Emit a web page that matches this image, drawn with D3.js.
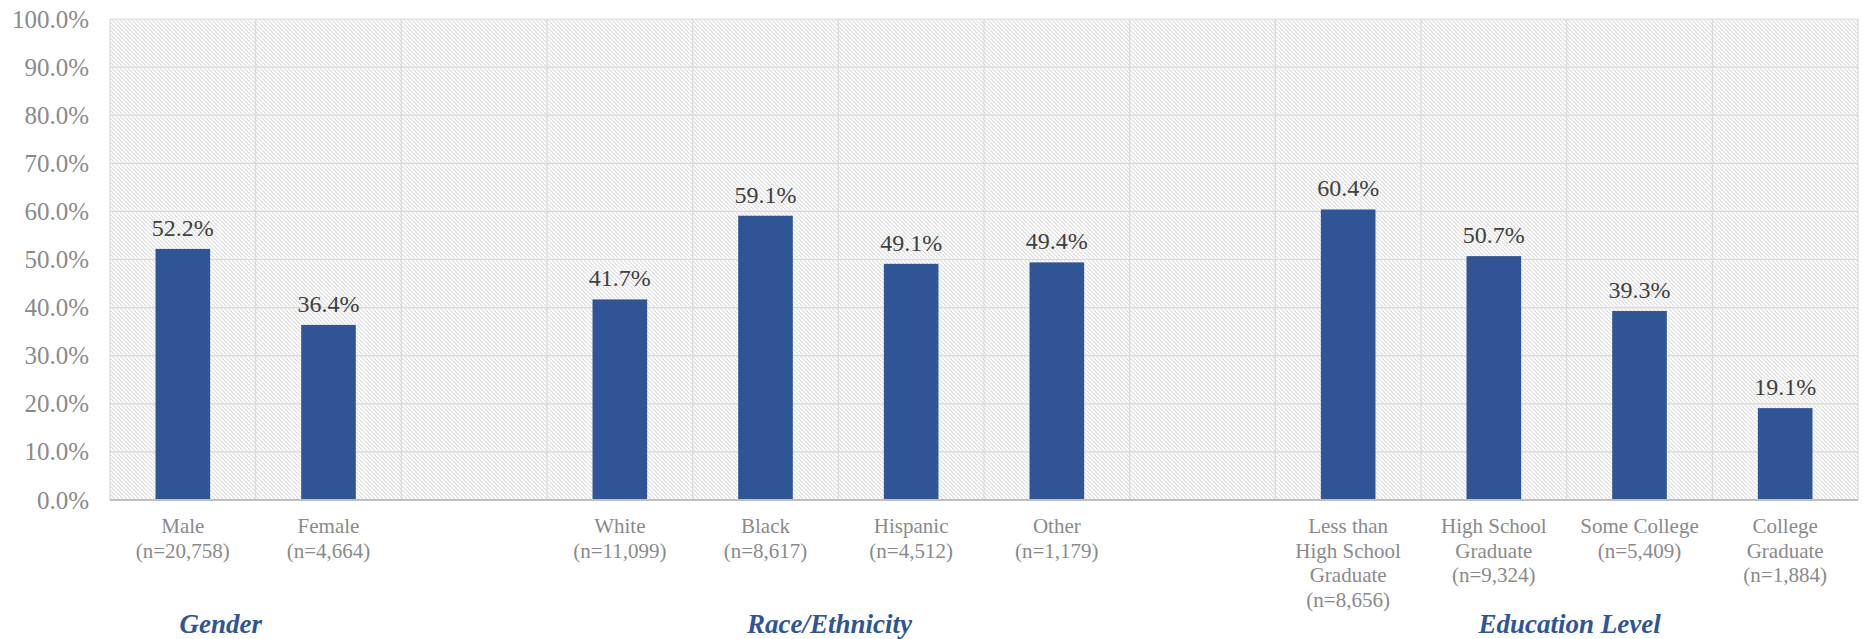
<!DOCTYPE html>
<html>
<head>
<meta charset="utf-8">
<script src="https://cdn.jsdelivr.net/npm/d3@7"></script>
<style>
  body { margin: 0; background: #fff; }
  svg { display: block; }
</style>
</head>
<body>
<svg width="1863" height="639"></svg>
<script>
// categories, blank slots separate the groups
var categories = ["Male", "Female", "", "White", "Black", "Hispanic", "Other", "",
  "Less than\nHigh School\nGraduate", "High School\nGraduate", "Some College", "College\nGraduate"];
var sampleSizes = ["20,758", "4,664", null, "11,099", "8,617", "4,512", "1,179", null,
  "8,656", "9,324", "5,409", "1,884"];
var values = [52.2, 36.4, null, 41.7, 59.1, 49.1, 49.4, null, 60.4, 50.7, 39.3, 19.1];

var groups = ["Gender", "Race/Ethnicity", "Education Level"];
var groupCenters = [0.76, 4.94, 10.02]; // in category slots
var yTicks = [0, 10, 20, 30, 40, 50, 60, 70, 80, 90, 100];

var plotLeft = 110, plotRight = 1858, plotTop = 19, plotBottom = 500;
var font = "'Liberation Serif', 'Times New Roman', serif";

var svg = d3.select("svg");

var data = categories.map((c, i) => {
  return {key: i, name: c, n: sampleSizes[i], value: values[i]};
});

var x = d3.scaleBand()
  .domain(data.map(d => d.key))
  .range([plotLeft, plotRight])
  .paddingInner(0.625)
  .paddingOuter(0.3125);

var slot = d3.scaleLinear()
  .domain([0, categories.length])
  .range([plotLeft, plotRight]);

var y = d3.scaleLinear()
  .domain([0, 100])
  .range([plotBottom, plotTop]);

// hatch fill for the plot area
var pat = svg.append("defs").append("pattern")
  .attr("id", "hatch")
  .attr("patternUnits", "userSpaceOnUse")
  .attr("width", 4)
  .attr("height", 4);
pat.append("rect").attr("width", 4).attr("height", 4).attr("fill", "#fff");
pat.append("path")
  .attr("d", "M-1,-1L5,5M-1,3L1,5M3,-1L5,1")
  .attr("stroke", "#dcdcdc")
  .attr("stroke-width", 1.1);

svg.append("rect")
  .attr("x", plotLeft).attr("y", plotTop)
  .attr("width", plotRight - plotLeft).attr("height", plotBottom - plotTop)
  .attr("fill", "url(#hatch)");

// grid
var grid = svg.append("g").attr("stroke", "#d9d9d9").attr("stroke-width", 1.2);
grid.selectAll(".h").data(yTicks).join("line")
  .attr("x1", plotLeft).attr("x2", plotRight)
  .attr("y1", d => y(d)).attr("y2", d => y(d));
grid.selectAll(".v").data(d3.range(categories.length + 1)).join("line")
  .attr("x1", d => slot(d)).attr("x2", d => slot(d))
  .attr("y1", plotTop).attr("y2", plotBottom);

// y axis
var yAxis = svg.append("g")
  .attr("transform", `translate(${plotLeft}, 0)`)
  .call(d3.axisLeft(y).tickValues(yTicks).tickSize(0).tickPadding(21)
    .tickFormat(d => d.toFixed(1) + "%"));
yAxis.select(".domain").remove();
yAxis.selectAll("text")
  .attr("font-family", font)
  .attr("font-size", 25)
  .attr("fill", "#8a8a8a");

// bars
var bars = data.filter(d => d.value != null);
svg.append("g").selectAll("rect").data(bars).join("rect")
  .attr("x", d => x(d.key))
  .attr("width", x.bandwidth())
  .attr("y", d => y(d.value))
  .attr("height", d => y(0) - y(d.value))
  .attr("fill", "#2f5597");

svg.append("g").selectAll("text").data(bars).join("text")
  .attr("x", d => x(d.key) + x.bandwidth() / 2)
  .attr("y", d => y(d.value) - 13)
  .attr("text-anchor", "middle")
  .attr("font-family", font)
  .attr("font-size", 24)
  .attr("fill", "#404040")
  .text(d => d.value.toFixed(1) + "%");

// bottom axis line
svg.append("line")
  .attr("x1", plotLeft).attr("x2", plotRight)
  .attr("y1", y(0)).attr("y2", y(0))
  .attr("stroke", "#bfbfbf")
  .attr("stroke-width", 2);

// category labels
var labels = svg.append("g").selectAll("text").data(bars).join("text")
  .attr("text-anchor", "middle")
  .attr("font-family", font)
  .attr("font-size", 21)
  .attr("fill", "#8a8a8a");
labels.each(function(d) {
  var lines = d.name.split("\n").concat(["(n=" + d.n + ")"]);
  var cx = x(d.key) + x.bandwidth() / 2;
  d3.select(this).selectAll("tspan").data(lines).join("tspan")
    .attr("x", cx)
    .attr("y", (l, i) => plotBottom + 33 + i * 24.7)
    .text(l => l);
});

// group labels
svg.append("g").selectAll("text").data(groups).join("text")
  .attr("x", (g, i) => slot(groupCenters[i]))
  .attr("y", 633)
  .attr("text-anchor", "middle")
  .attr("font-family", font)
  .attr("font-size", 27)
  .attr("font-weight", "bold")
  .attr("font-style", "italic")
  .attr("fill", "#2f5597")
  .text(g => g);
</script>
</body>
</html>
